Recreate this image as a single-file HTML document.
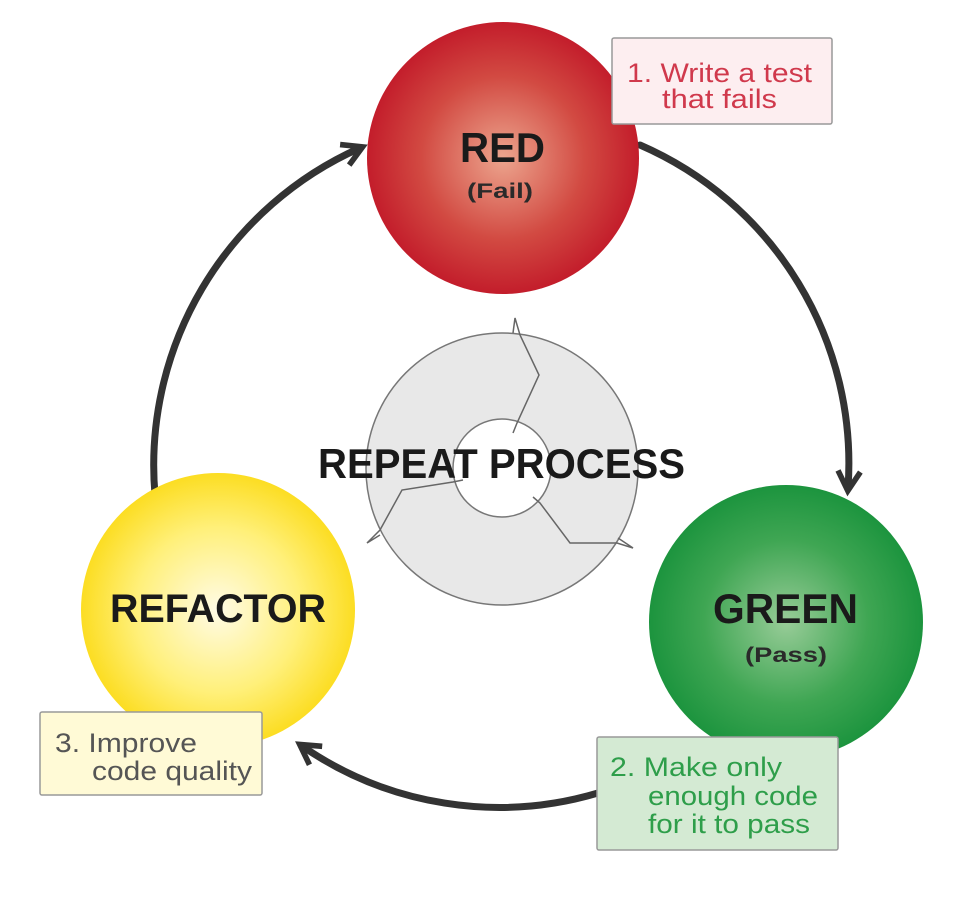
<!DOCTYPE html>
<html><head><meta charset="utf-8"><style>body{margin:0;background:#fff}svg{display:block}</style></head>
<body>
<svg width="969" height="900" viewBox="0 0 969 900" xmlns="http://www.w3.org/2000/svg" font-family="Liberation Sans, sans-serif">
<defs>
<radialGradient id="gr" cx="50%" cy="50%" r="50%"><stop offset="0" stop-color="#eca58e"/><stop offset="0.6" stop-color="#d24a42"/><stop offset="1" stop-color="#c31d2b"/></radialGradient>
<radialGradient id="gg" cx="50%" cy="50%" r="50%"><stop offset="0" stop-color="#98cc98"/><stop offset="0.6" stop-color="#3fa653"/><stop offset="1" stop-color="#1c943e"/></radialGradient>
<radialGradient id="gy" cx="50%" cy="50%" r="50%"><stop offset="0" stop-color="#fffbe6"/><stop offset="0.6" stop-color="#fff07a"/><stop offset="1" stop-color="#fcdd22"/></radialGradient>
<marker id="ah" viewBox="0 0 10 10" refX="7" refY="5" markerWidth="4" markerHeight="4" orient="auto" markerUnits="strokeWidth">
<path d="M1,1 L8,5 L1,9" fill="none" stroke="#333" stroke-width="2"/></marker>
</defs>
<g fill="none" stroke="#333" stroke-width="7" stroke-linecap="round">
<path d="M155,495 A347,347 0 0 1 360,148" marker-end="url(#ah)"/>
<path d="M640,145 A347,347 0 0 1 848,488" marker-end="url(#ah)"/>
<path d="M598,793 A347,347 0 0 1 302,746" marker-end="url(#ah)"/>
</g>
<!-- repeat ring -->
<circle cx="502" cy="469" r="136" fill="#e8e8e8" stroke="#777" stroke-width="1.5"/>
<circle cx="502" cy="468" r="49" fill="#fff" stroke="#777" stroke-width="1.5"/>
<g fill="none" stroke="#666" stroke-width="1.5">
<polyline points="513,333 515,318 520,335 539,375 517,423 513,433"/>
<polyline points="533,497 540,503 570,543 617,543 633,548 618,538"/>
<polyline points="463,480 453,482 402,490 380,530 367,543 380,535"/>
</g>
<circle cx="503" cy="158" r="136" fill="url(#gr)"/>
<circle cx="786" cy="622" r="137" fill="url(#gg)"/>
<circle cx="218" cy="610" r="137" fill="url(#gy)"/>
<g font-weight="bold" fill="#1a1a1a">
<text x="318" y="478" font-size="42" textLength="367" lengthAdjust="spacingAndGlyphs">REPEAT PROCESS</text>
<text x="460" y="162" font-size="42" textLength="85" lengthAdjust="spacingAndGlyphs">RED</text>
<text x="467" y="198" font-size="21" fill="#2a2a2a" textLength="66" lengthAdjust="spacingAndGlyphs">(Fail)</text>
<text x="713" y="623" font-size="42" textLength="145" lengthAdjust="spacingAndGlyphs">GREEN</text>
<text x="745" y="662" font-size="21" fill="#2a2a2a" textLength="82" lengthAdjust="spacingAndGlyphs">(Pass)</text>
<text x="110" y="622" font-size="40" textLength="216" lengthAdjust="spacingAndGlyphs">REFACTOR</text>
</g>
<rect x="612" y="38" width="220" height="86" fill="#fdeef0" stroke="#999" stroke-width="1.5" rx="2"/>
<g font-size="27" fill="#d0394c">
<text x="627" y="82" textLength="185" lengthAdjust="spacingAndGlyphs">1. Write a test</text>
<text x="662" y="108" textLength="115" lengthAdjust="spacingAndGlyphs">that fails</text>
</g>
<rect x="597" y="737" width="241" height="113" fill="#d4ead3" stroke="#999" stroke-width="1.5" rx="2"/>
<g font-size="27" fill="#2e9e4a">
<text x="610" y="776" textLength="172" lengthAdjust="spacingAndGlyphs">2. Make only</text>
<text x="648" y="805" textLength="170" lengthAdjust="spacingAndGlyphs">enough code</text>
<text x="648" y="833" textLength="162" lengthAdjust="spacingAndGlyphs">for it to pass</text>
</g>
<rect x="40" y="712" width="222" height="83" fill="#fffad6" stroke="#999" stroke-width="1.5" rx="2"/>
<g font-size="27" fill="#555">
<text x="55" y="752" textLength="142" lengthAdjust="spacingAndGlyphs">3. Improve</text>
<text x="92" y="780" textLength="160" lengthAdjust="spacingAndGlyphs">code quality</text>
</g>
</svg>
</body></html>
